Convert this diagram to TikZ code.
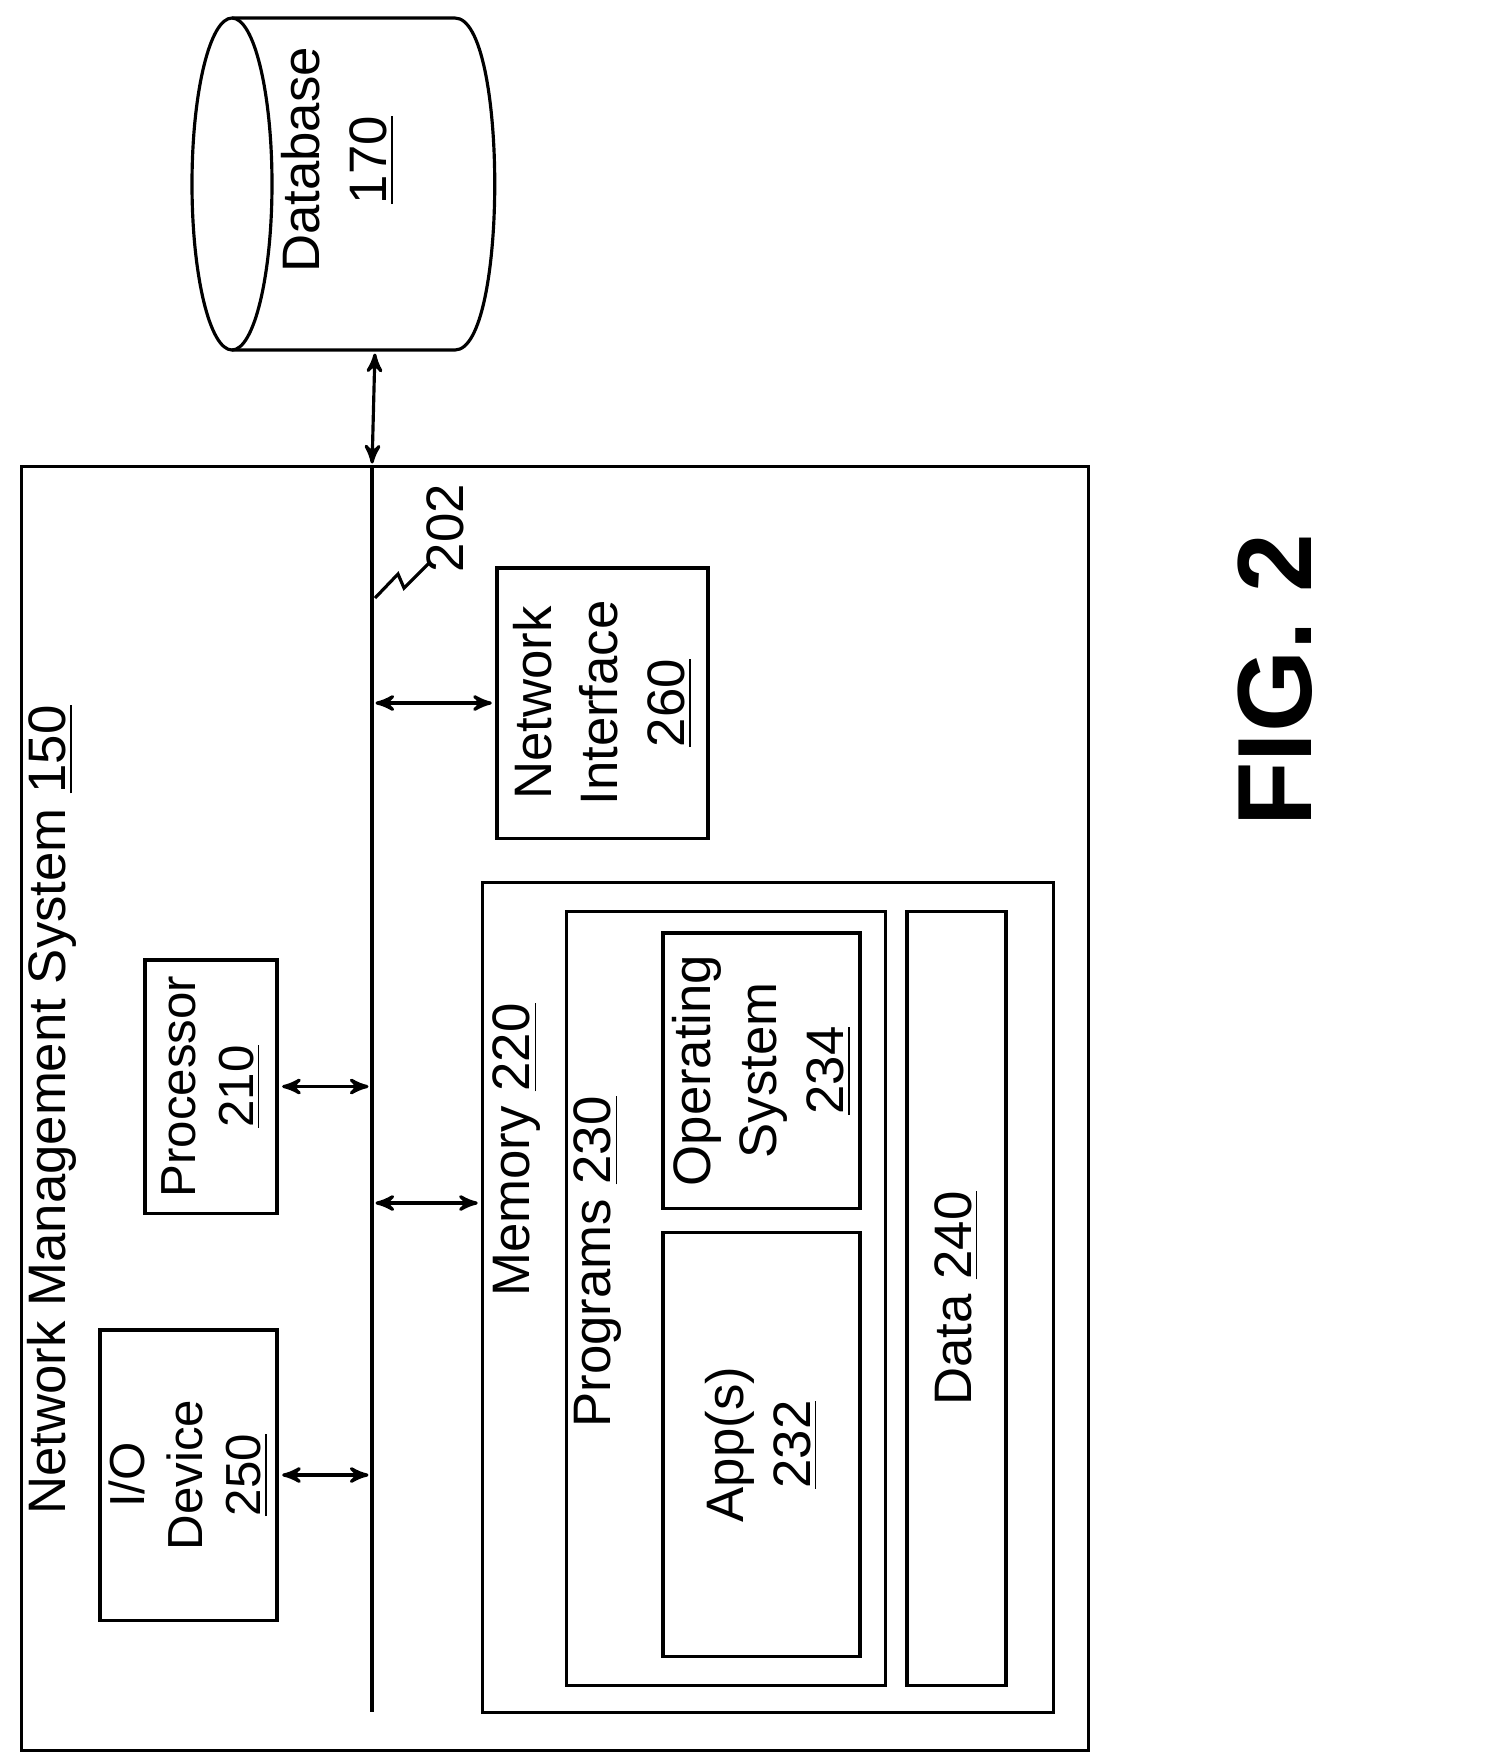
\documentclass[tikz,border=0pt]{standalone}
\usepackage{fontspec}
\setmainfont{Liberation Sans}
\usetikzlibrary{arrows}
\begin{document}
\begin{tikzpicture}[x=0.01cm,y=-0.01cm,>=stealth',line width=0.9pt,
    box/.style={draw,rectangle,rotate=90,inner sep=0pt},
    lbl/.style={rotate=90,align=center,font=\fontsize{15}{19}\selectfont},
    small/.style={font=\fontsize{14}{16.5}\selectfont},
    link/.style={<->,shorten >=1pt,shorten <=1pt}]
    \useasboundingbox (0,0) rectangle (1489,1759);

    % database
    \draw (232,18) -- (455,18) .. controls (508,18) and (508,350) .. (455,350) -- (232,350);
    \draw (232,184) ellipse[x radius=40,y radius=166];
    \node[lbl] (db) at (338,160) {Database\\\underline{170}};
    \coordinate (dbport) at (375,350);

    % system and bus
    \node[box,minimum width=12.83cm,minimum height=10.66cm] (nms) at (555,1108.5) {};
    \node[lbl] (nmslbl) at (52,1110) {Network Management System \underline{150}};
    \coordinate (bustop) at (372,467);
    \coordinate (busbot) at (372,1712);
    \draw (bustop) -- (busbot);
    \draw[link] (bustop) -- (dbport);
    \draw (375,598) -- (398,574) -- (404,588) -- (430,562);
    \node[lbl] (buslbl) at (445,528) {202};

    % components
    \node[box,minimum width=2.7cm,minimum height=2.11cm] (netif) at (602.5,703) {};
    \node[lbl] at (netif) {Network\\Interface\\\underline{260}};
    \node[box,minimum width=2.53cm,minimum height=1.32cm] (proc) at (211,1086.5) {};
    \node[lbl,small] at (proc) {Processor\\\underline{210}};
    \node[box,minimum width=2.9cm,minimum height=1.77cm] (io) at (188.5,1475) {};
    \node[lbl,small] at (io) {I/O\\Device\\\underline{250}};
    \node[box,minimum width=8.29cm,minimum height=5.7cm] (mem) at (768,1297.5) {};
    \node[lbl] (memlbl) at (517,1150) {Memory \underline{220}};
    \node[box,minimum width=7.73cm,minimum height=3.18cm] (prog) at (726,1298.5) {};
    \node[lbl] (proglbl) at (598,1262) {Programs \underline{230}};
    \node[box,minimum width=2.75cm,minimum height=1.97cm] (os) at (761.5,1070.5) {};
    \node[lbl] at (os) {Operating\\System\\\underline{234}};
    \node[box,minimum width=4.23cm,minimum height=1.97cm] (apps) at (761.5,1444.5) {};
    \node[lbl] at (apps) {App(s)\\\underline{232}};
    \node[box,minimum width=7.73cm,minimum height=0.99cm] (data) at (956.5,1298.5) {};
    \node[lbl] at (data) {Data \underline{240}};

    % bus links
    \draw[link] (netif.north) -- (netif.north -| bustop);
    \draw[link] (proc.south) -- (proc.south -| bustop);
    \draw[link] (io.south) -- (io.south -| bustop);
    \draw[link] (mem.north |- 0,1203) -- (bustop |- 0,1203);

    \node[rotate=90,font=\fontsize{30}{34}\selectfont\bfseries] (fig) at (1275,680) {FIG. 2};
\end{tikzpicture}
\end{document}
